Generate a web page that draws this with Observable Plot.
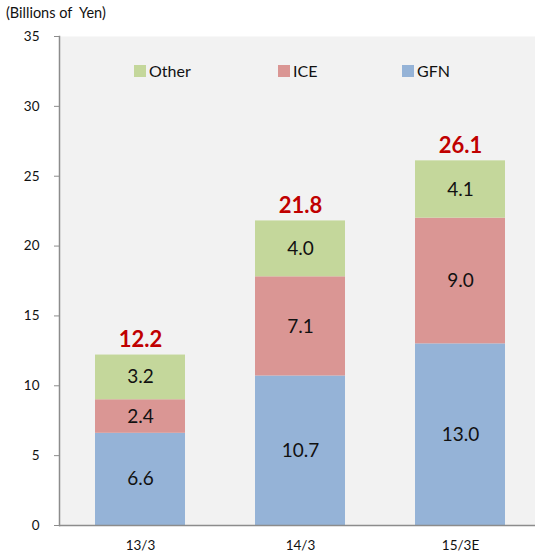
<!DOCTYPE html>
<html>
<head>
<meta charset="utf-8">
<script src="https://cdn.jsdelivr.net/npm/d3@7"></script>
<script src="https://cdn.jsdelivr.net/npm/@observablehq/plot@0.6"></script>
<style>
  body { margin: 0; background: #fff; font-family: Lato, "Open Sans", sans-serif; }
  #wrap { position: relative; width: 535px; height: 560px; overflow: hidden; }
  #title { position: absolute; left: 6px; top: 4px; font-size: 14.5px; color: #111; white-space: pre; }
  .lg { position: absolute; top: 61px; font-size: 16px; color: #111; display: flex; align-items: center; }
  .lg span.sw { display: inline-block; width: 12px; height: 12px; margin-right: 3px; }
</style>
</head>
<body>
<div id="wrap">
  <div id="chart"></div>
  <div id="title">(Billions of  Yen)</div>
  <div id="legend"></div>
</div>
<script>
const categories = ["13/3", "14/3", "15/3E"];
const seriesNames = ["GFN", "ICE", "Other"];
const gfn = [6.6, 10.7, 13.0];
const ice = [2.4, 7.1, 9.0];
const other = [3.2, 4.0, 4.1];
const totals = [12.2, 21.8, 26.1];
const yTicks = [0, 5, 10, 15, 20, 25, 30, 35];
const colors = ["#95b3d7", "#da9694", "#c4d79b"];

const seriesValues = [gfn, ice, other];
const rows = [];
categories.forEach((c, i) => {
  seriesNames.forEach((s, j) => rows.push({cat: c, series: s, value: seriesValues[j][i]}));
});
const totalRows = categories.map((c, i) => ({cat: c, total: totals[i]}));

const plot = Plot.plot({
  width: 535,
  height: 560,
  marginLeft: 59,
  marginRight: -6,
  marginTop: 36,
  marginBottom: 35,
  style: {fontFamily: "Lato, 'Open Sans', sans-serif", background: "#fff", overflow: "visible"},
  x: {domain: categories, paddingInner: 0.44, paddingOuter: 0.22, label: null},
  y: {domain: [0, 35], ticks: yTicks, label: null},
  color: {domain: seriesNames, range: colors},
  marks: [
    Plot.frame({fill: "#f2f2f2", stroke: null}),
    Plot.barY(rows, {x: "cat", y: "value", fill: "series"}),
    Plot.text(rows, Plot.stackY({x: "cat", y: "value", text: d => d.value.toFixed(1), fontSize: 19, fill: "#111"})),
    Plot.text(totalRows, {x: "cat", y: "total", text: d => d.total.toFixed(1), dy: -15, fontSize: 22, fontWeight: "bold", fill: "#c00000"}),
    Plot.ruleY([0], {stroke: "#8c8c8c", strokeWidth: 1.5}),
    Plot.frame({anchor: "left", stroke: "#8c8c8c", strokeWidth: 1.5}),
    Plot.axisY({ticks: yTicks, tickSize: 5, tickPadding: 15, fontSize: 13.5, stroke: "#8c8c8c", fill: "#111", label: null}),
    Plot.axisX({tickSize: 0, tickPadding: 15, fontSize: 13.5, fill: "#111", label: null})
  ]
});
document.getElementById("chart").appendChild(plot);

// legend (order as in reference)
const legendItems = [
  {name: "Other", left: 134},
  {name: "ICE", left: 278},
  {name: "GFN", left: 402}
];
const lg = document.getElementById("legend");
legendItems.forEach(it => {
  const d = document.createElement("div");
  d.className = "lg";
  d.style.left = it.left + "px";
  const sw = document.createElement("span");
  sw.className = "sw";
  sw.style.background = colors[seriesNames.indexOf(it.name)];
  d.appendChild(sw);
  d.appendChild(document.createTextNode(it.name));
  lg.appendChild(d);
});
</script>
</body>
</html>
